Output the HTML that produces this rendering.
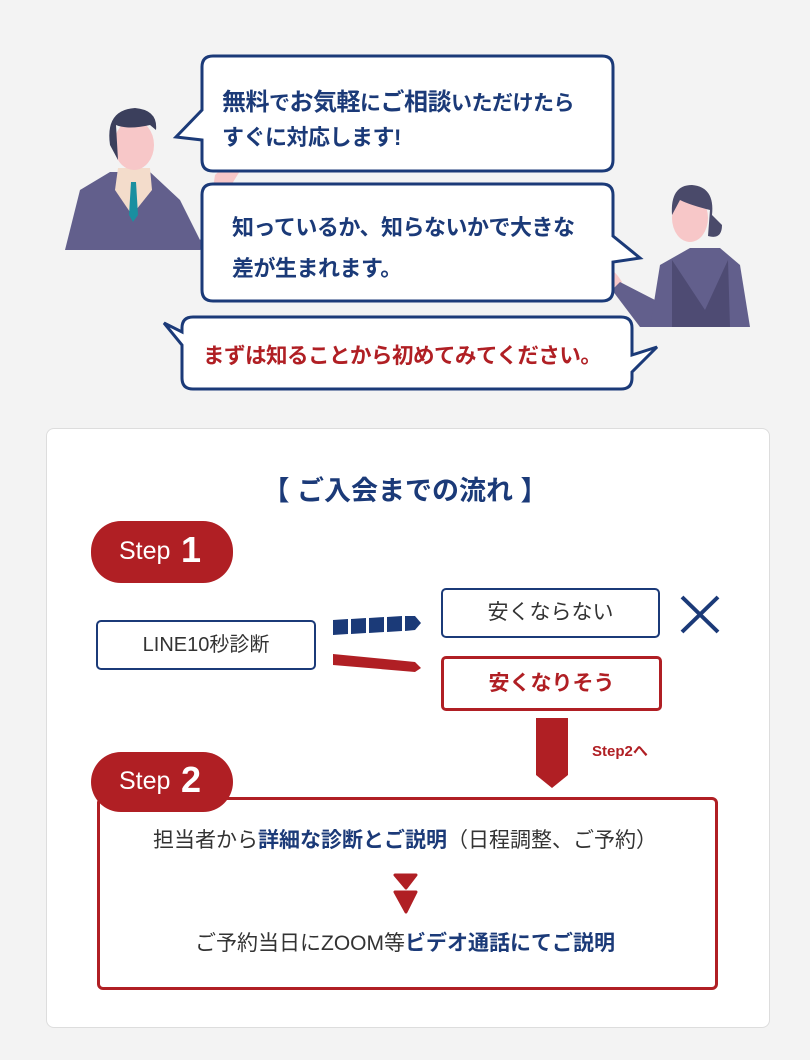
<!DOCTYPE html>
<html><head><meta charset="utf-8"><style>
body{margin:0;width:810px;height:1060px;background:#f3f3f3;position:relative;overflow:hidden;font-family:"Liberation Sans","Noto Sans CJK JP",sans-serif}
.a{position:absolute}
.t{font-weight:bold;color:#1b3a78;font-size:22px;white-space:nowrap;letter-spacing:-0.5px}
.nv{color:#1b3a78;font-weight:bold}
</style></head><body>
<svg class="a" style="left:0;top:0" width="810" height="420">
<!-- man -->
<path d="M65 250 L80 190 L110 172 L150 172 L180 200 L200 240 L225 200 L222 240 L200 250 Z" fill="#625f8c"/>
<path d="M118 168 L150 168 L152 190 L132 215 L115 190Z" fill="#f3dccb"/>
<path d="M131 182 L136 182 L138 215 L133 222 L129 215Z" fill="#1a8fa0"/>
<ellipse cx="134" cy="145" rx="20" ry="25" fill="#f7c7c8"/>
<path d="M110 145 Q105 110 135 108 Q158 110 156 130 L150 125 Q128 130 116 125 L118 160 Z" fill="#3b3f5c"/>
<path d="M215 175 Q235 155 248 158 L222 200 L212 195Z" fill="#f7c7c8"/>
<!-- woman -->
<path d="M598 270 Q610 262 622 282 L614 290Z" fill="#f7c7c8"/>
<path d="M612 290 L620 282 L655 300 L652 327 L640 327Z" fill="#625f8c"/>
<path d="M650 327 L660 265 L690 248 L720 248 L740 265 L750 327Z" fill="#625f8c"/>
<path d="M672 260 L705 310 L728 260 L730 327 L672 327Z" fill="#4e4b73"/>
<ellipse cx="690" cy="218" rx="18" ry="24" fill="#f7c7c8"/>
<path d="M672 215 Q670 185 692 185 Q715 187 712 215 L722 225 Q722 240 708 236 L710 210 Q690 205 680 200Z" fill="#4a4a6a"/>
<!-- bubble 1 -->
<path d="M213 56 H602 Q613 56 613 67 V160 Q613 171 602 171 H213 Q202 171 202 160 V140 L176 137 L202 110 V67 Q202 56 213 56Z" fill="#fff" stroke="#1b3a78" stroke-width="3"/>
<!-- bubble 2 -->
<path d="M213 184 H602 Q613 184 613 195 V236 L640 258 L613 262 V290 Q613 301 602 301 H213 Q202 301 202 290 V195 Q202 184 213 184Z" fill="#fff" stroke="#1b3a78" stroke-width="3"/>
<!-- bubble 3 -->
<path d="M193 317 H621 Q632 317 632 328 V355 L657 347 L632 372 V378 Q632 389 621 389 H193 Q182 389 182 378 V345 L164 323 L182 332 V328 Q182 317 193 317Z" fill="#fff" stroke="#1b3a78" stroke-width="3"/>
</svg>
<div class="a t" style="left:222px;top:82px;font-size:24px">無料<span style="font-size:21px">で</span>お気軽<span style="font-size:21px">に</span>ご相談<span style="font-size:21px">いただけたら</span></div>
<div class="a t" style="left:222px;top:120px">すぐに対応します!</div>
<div class="a t" style="left:232px;top:210px">知っているか、知らないかで大きな</div>
<div class="a t" style="left:232px;top:251px">差が生まれます。</div>
<div class="a t" style="left:203px;top:339px;color:#b01f24;font-size:21.5px">まずは知ることから初めてみてください。</div>

<div class="a" style="left:46px;top:428px;width:722px;height:598px;background:#fff;border:1px solid #ddd;border-radius:8px"></div>
<div class="a nv" style="left:0;width:810px;top:469px;text-align:center;font-size:27px">【 ご入会までの流れ 】</div>

<div class="a" style="left:91px;top:521px;width:142px;height:62px;background:#b01f24;border-radius:30px;color:#fff"><span class="a" style="left:28px;top:16px;font-size:25px">Step</span><span class="a" style="left:90px;top:8px;font-size:36px;font-weight:bold">1</span></div>
<div class="a" style="left:96px;top:620px;width:216px;height:46px;border:2px solid #1b3a78;border-radius:5px;background:#fff;text-align:center;line-height:46px;font-size:20px;color:#333">LINE10秒診断</div>
<svg class="a" style="left:330px;top:610px" width="100" height="70">
<g fill="#1b3a78"><path d="M3 10 L18 9 L18 24 L3 25Z"/><path d="M21 9 L36 8 L36 23 L21 24Z"/><path d="M39 8 L54 7 L54 22 L39 23Z"/><path d="M57 7 L72 6 L72 21 L57 22Z"/><path d="M75 6 L85 6 L91 13 L85 20 L75 21Z"/></g>
<path d="M3 44 L85 52 L91 58 L85 62 L3 55Z" fill="#b01f24"/>
</svg>
<div class="a" style="left:441px;top:588px;width:215px;height:46px;border:2px solid #1b3a78;border-radius:5px;background:#fff;text-align:center;line-height:46px;font-size:21px;color:#333">安くならない</div>
<svg class="a" style="left:678px;top:594px" width="46" height="42"><path d="M4 3 L40 38 M40 3 L4 38" stroke="#1b3a78" stroke-width="4"/></svg>
<div class="a" style="left:441px;top:656px;width:215px;height:49px;border:3px solid #b01f24;border-radius:5px;background:#fff;text-align:center;line-height:49px;font-size:21px;color:#b01f24;font-weight:bold">安くなりそう</div>
<svg class="a" style="left:530px;top:715px" width="45" height="75"><path d="M6 3 H38 V60 L22 73 L6 60Z" fill="#b01f24"/></svg>
<div class="a" style="left:592px;top:740px;color:#b01f24;font-weight:bold;font-size:15px">Step2へ</div>

<div class="a" style="left:97px;top:797px;width:615px;height:187px;border:3px solid #b01f24;border-radius:6px;background:#fff"></div>
<div class="a" style="left:91px;top:752px;width:142px;height:60px;background:#b01f24;border-radius:30px;color:#fff"><span class="a" style="left:28px;top:15px;font-size:25px">Step</span><span class="a" style="left:90px;top:7px;font-size:36px;font-weight:bold">2</span></div>
<div class="a" style="left:0;width:810px;top:824px;text-align:center;font-size:21px;color:#333">担当者から<span class="nv">詳細な診断とご説明</span>（日程調整、ご予約）</div>
<svg class="a" style="left:392px;top:872px" width="28" height="42"><path d="M3 3 H24 L14 16Z M3 20 H24 L14 40 Z" fill="#b01f24" stroke="#b01f24" stroke-width="3" stroke-linejoin="round"/></svg>
<div class="a" style="left:0;width:810px;top:927px;text-align:center;font-size:21px;color:#333">ご予約当日にZOOM等<span class="nv">ビデオ通話にてご説明</span></div>
</body></html>
